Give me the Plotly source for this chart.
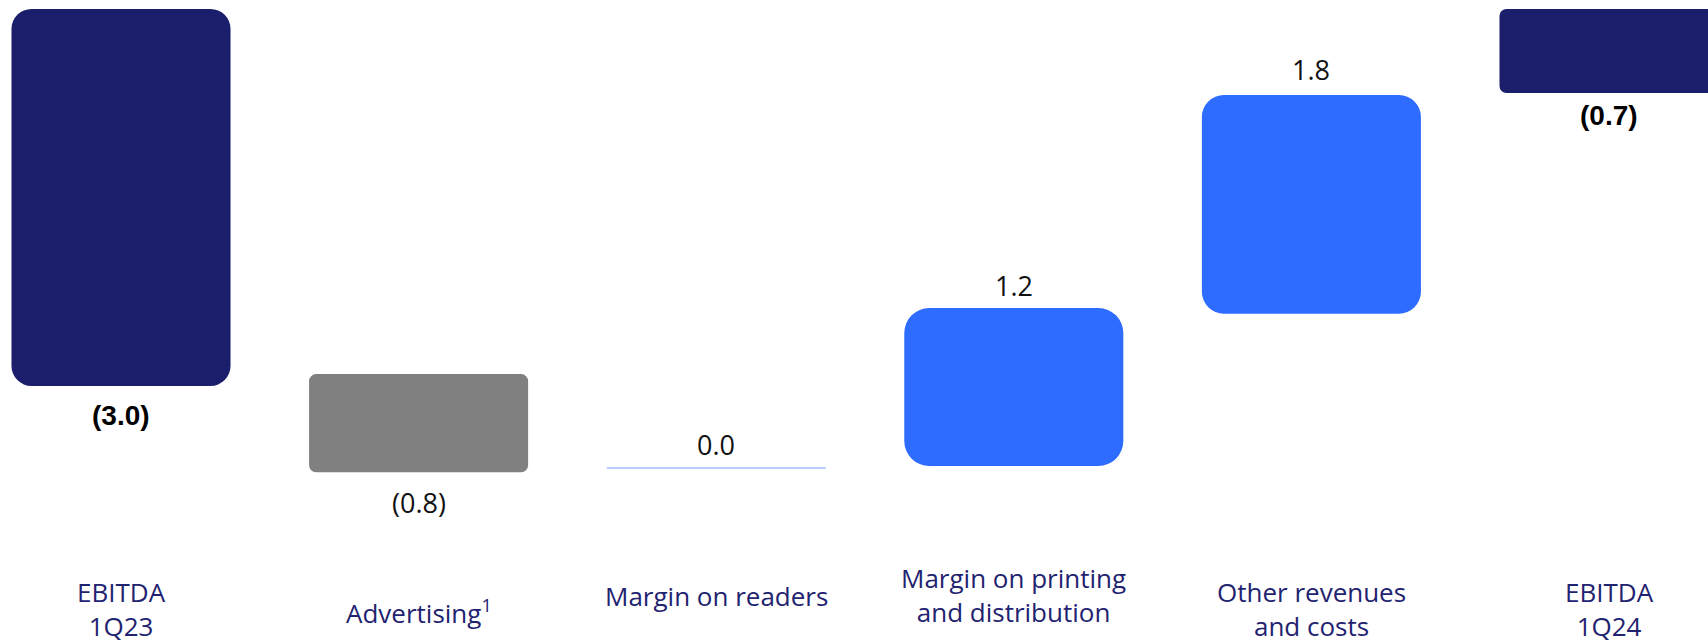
import plotly.graph_objects as go

# ---- data ----
categories = ["EBITDA<br>1Q23", "Advertising<sup>1</sup>", "Margin on readers",
              "Margin on printing<br>and distribution", "Other revenues<br>and costs", "EBITDA<br>1Q24"]
changes = [-3.0, -0.8, 0.0, 1.2, 1.8, -0.7]
value_labels = ["(3.0)", "(0.8)", "0.0", "1.2", "1.8", "(0.7)"]
bar_top = [0.0, -2.90, -3.646, -2.375, -0.683, 0.0]
bar_bottom = [-2.994, -3.68, -3.646, -3.63, -2.42, -0.667]

# ---- styles ----
NAVY = "#1B1F6B"
GRAY = "#808080"
BLUE = "#2E6BFF"
LINE_BLUE = "#A3BDFF"
colors = [NAVY, GRAY, LINE_BLUE, BLUE, BLUE, NAVY]
radii = [20, 7, 0, 25, 22, 7]
label_fonts = [
    dict(family="Liberation Sans, Arial", size=28, color="#000000", weight="bold"),
    dict(family="Open Sans", size=27, color="#111111"),
    dict(family="Open Sans", size=27, color="#111111"),
    dict(family="Open Sans", size=27, color="#111111"),
    dict(family="Open Sans", size=27, color="#111111"),
    dict(family="Liberation Sans, Arial", size=28, color="#000000", weight="bold"),
]
label_gap = [30, 30, 24, 23, 25, 23]
cat_center_px = [609, 612, 596, 595, 609, 609]
BAR_W = 0.736
W, H = 1708, 640

fig = go.Figure()
for i in range(len(categories)):
    top, bot = bar_top[i], bar_bottom[i]
    if top == bot:
        fig.add_trace(go.Scatter(x=[i - BAR_W / 2, i + BAR_W / 2], y=[top, top], mode="lines",
                                 line=dict(color=colors[i], width=1.5), hoverinfo="skip",
                                 showlegend=False))
    else:
        fig.add_trace(go.Bar(x=[i], base=[top], y=[bot - top], width=BAR_W,
                             marker=dict(color=colors[i], line=dict(width=0), cornerradius=radii[i]),
                             showlegend=False, hoverinfo="skip"))

annotations = []
for i, lab in enumerate(value_labels):
    if changes[i] >= 0:
        yref_val, shift = bar_top[i], label_gap[i]
    else:
        yref_val, shift = bar_bottom[i], -label_gap[i]
    annotations.append(dict(x=i, y=yref_val, xref="x", yref="y", text=lab, showarrow=False,
                            yanchor="middle", yshift=shift, font=label_fonts[i]))

for i, cat in enumerate(categories):
    annotations.append(dict(x=i, y=1 - cat_center_px[i] / H, xref="x", yref="paper", text=cat,
                            showarrow=False, yanchor="middle", borderpad=0,
                            font=dict(family="Open Sans", size=26, color="#1F2370")))

px_per_unit = 125.9
zero_px = 9
fig.update_layout(
    width=W, height=H, margin=dict(l=0, r=0, t=0, b=0),
    paper_bgcolor="white", plot_bgcolor="white", barmode="overlay",
    xaxis=dict(range=[-121 / 297.6, (W - 121) / 297.6], visible=False, fixedrange=True),
    yaxis=dict(range=[-(H - zero_px) / px_per_unit, zero_px / px_per_unit], visible=False,
               fixedrange=True),
    annotations=annotations, showlegend=False,
)
fig.write_html("out.html", config={"displayModeBar": False})
